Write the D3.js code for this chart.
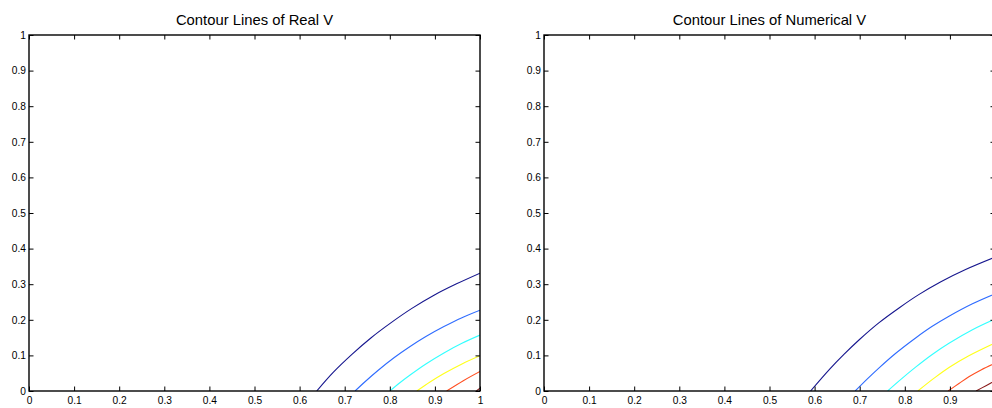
<!DOCTYPE html>
<html>
<head>
<meta charset="utf-8">
<script src="https://cdn.jsdelivr.net/npm/d3@7"></script>
<style>
html,body{margin:0;padding:0;background:#fff;}
svg{display:block;font-family:"Liberation Sans",Arial,Helvetica,sans-serif;}
</style>
</head>
<body>
<svg id="chart" width="992" height="408"></svg>
<script>
// ---- data ----
const tickValues = [0,0.1,0.2,0.3,0.4,0.5,0.6,0.7,0.8,0.9,1];
const tickLabels = ["0","0.1","0.2","0.3","0.4","0.5","0.6","0.7","0.8","0.9","1"];
const titles = ["Contour Lines of Real V", "Contour Lines of Numerical V"];
const levelColors = ["#16168e","#2f6cff","#33ffff","#ffff1a","#ff4d1f","#8a1a1a"];

// Real V contour lines (x, y)
const realLevel1 = [[0.638,0],[0.675,0.053],[0.716,0.103],[0.758,0.149],[0.803,0.192],[0.849,0.232],[0.898,0.269],[0.948,0.301],[1.0,0.331]];
const realLevel2 = [[0.723,0],[0.745,0.026],[0.775,0.059],[0.810,0.094],[0.845,0.125],[0.880,0.153],[0.920,0.181],[0.960,0.206],[1.0,0.227]];
const realLevel3 = [[0.800,0],[0.823,0.024],[0.845,0.045],[0.880,0.076],[0.920,0.107],[0.960,0.134],[1.0,0.157]];
const realLevel4 = [[0.860,0],[0.890,0.026],[0.920,0.049],[0.960,0.076],[1.0,0.099]];
const realLevel5 = [[0.926,0],[0.963,0.029],[1.0,0.055]];
const realLevel6 = [[0.992,0],[1.0,0.008]];

// Numerical V contour lines (x, y)
const numLevel1 = [[0.591,0],[0.633,0.061],[0.665,0.103],[0.699,0.144],[0.743,0.192],[0.788,0.234],[0.830,0.270],[0.880,0.307],[0.936,0.342],[1.0,0.376]];
const numLevel2 = [[0.690,0],[0.717,0.034],[0.743,0.065],[0.780,0.106],[0.824,0.149],[0.860,0.181],[0.898,0.210],[0.950,0.245],[1.0,0.273]];
const numLevel3 = [[0.762,0],[0.788,0.029],[0.824,0.067],[0.860,0.102],[0.898,0.134],[0.950,0.172],[1.0,0.202]];
const numLevel4 = [[0.829,0],[0.865,0.036],[0.898,0.066],[0.942,0.099],[1.0,0.135]];
const numLevel5 = [[0.896,0],[0.920,0.021],[0.942,0.040],[0.970,0.060],[1.0,0.078]];
const numLevel6 = [[0.958,0],[0.980,0.015],[1.0,0.029]];

const realLevels = [realLevel1,realLevel2,realLevel3,realLevel4,realLevel5,realLevel6];
const numLevels = [numLevel1,numLevel2,numLevel3,numLevel4,numLevel5,numLevel6];

// ---- drawing ----
const svg = d3.select("#chart");
const plotW = 451, plotH = 356, plotTop = 35;
const panels = [
  {left: 29, title: titles[0], levels: realLevels},
  {left: 544, title: titles[1], levels: numLevels}
];

panels.forEach((p, i) => {
  const x = d3.scaleLinear().domain([0,1]).range([0, plotW]);
  const y = d3.scaleLinear().domain([0,1]).range([plotH, 0]);
  const g = svg.append("g").attr("transform", `translate(${p.left},${plotTop})`);

  const clipId = "clip" + i;
  g.append("clipPath").attr("id", clipId)
    .append("rect").attr("x", 0).attr("y", 0).attr("width", plotW).attr("height", plotH);

  const line = d3.line().x(d => x(d[0])).y(d => y(d[1])).curve(d3.curveCatmullRom.alpha(0.5));
  g.append("g").attr("clip-path", `url(#${clipId})`)
    .selectAll("path").data(p.levels).join("path")
    .attr("d", line)
    .attr("fill", "none")
    .attr("stroke", (d, k) => levelColors[k])
    .attr("stroke-width", 1.1);

  const tickLen = 4.5;
  const fmt = (d) => tickLabels[tickValues.indexOf(d)];
  const bx = g.append("g").attr("transform", `translate(0,${plotH})`)
    .call(d3.axisBottom(x).tickValues(tickValues).tickFormat(fmt).tickSizeInner(-tickLen).tickSizeOuter(0).tickPadding(6));
  const tx = g.append("g")
    .call(d3.axisTop(x).tickValues(tickValues).tickFormat("").tickSizeInner(-tickLen).tickSizeOuter(0));
  const ly = g.append("g")
    .call(d3.axisLeft(y).tickValues(tickValues).tickFormat(fmt).tickSizeInner(-tickLen).tickSizeOuter(0).tickPadding(3));
  const ry = g.append("g").attr("transform", `translate(${plotW},0)`)
    .call(d3.axisRight(y).tickValues(tickValues).tickFormat("").tickSizeInner(-tickLen).tickSizeOuter(0));

  [bx, tx, ly, ry].forEach(a => {
    a.select(".domain").remove();
    a.selectAll(".tick line").attr("stroke", "#000").attr("stroke-width", 1);
    a.selectAll("text").attr("fill", "#000").style("font-size", "10.2px")
      .style("font-family", "'Liberation Sans', Arial, sans-serif");
  });
  bx.selectAll("text").attr("dy", "0.71em");

  g.append("rect").attr("x", 0).attr("y", 0).attr("width", plotW).attr("height", plotH)
    .attr("fill", "none").attr("stroke", "#000").attr("stroke-width", 1.4);

  g.append("text").attr("x", plotW / 2).attr("y", -10)
    .attr("text-anchor", "middle")
    .style("font-size", "14.8px")
    .style("font-family", "'Liberation Sans', Arial, sans-serif")
    .attr("fill", "#000")
    .text(p.title);
});
</script>
</body>
</html>
